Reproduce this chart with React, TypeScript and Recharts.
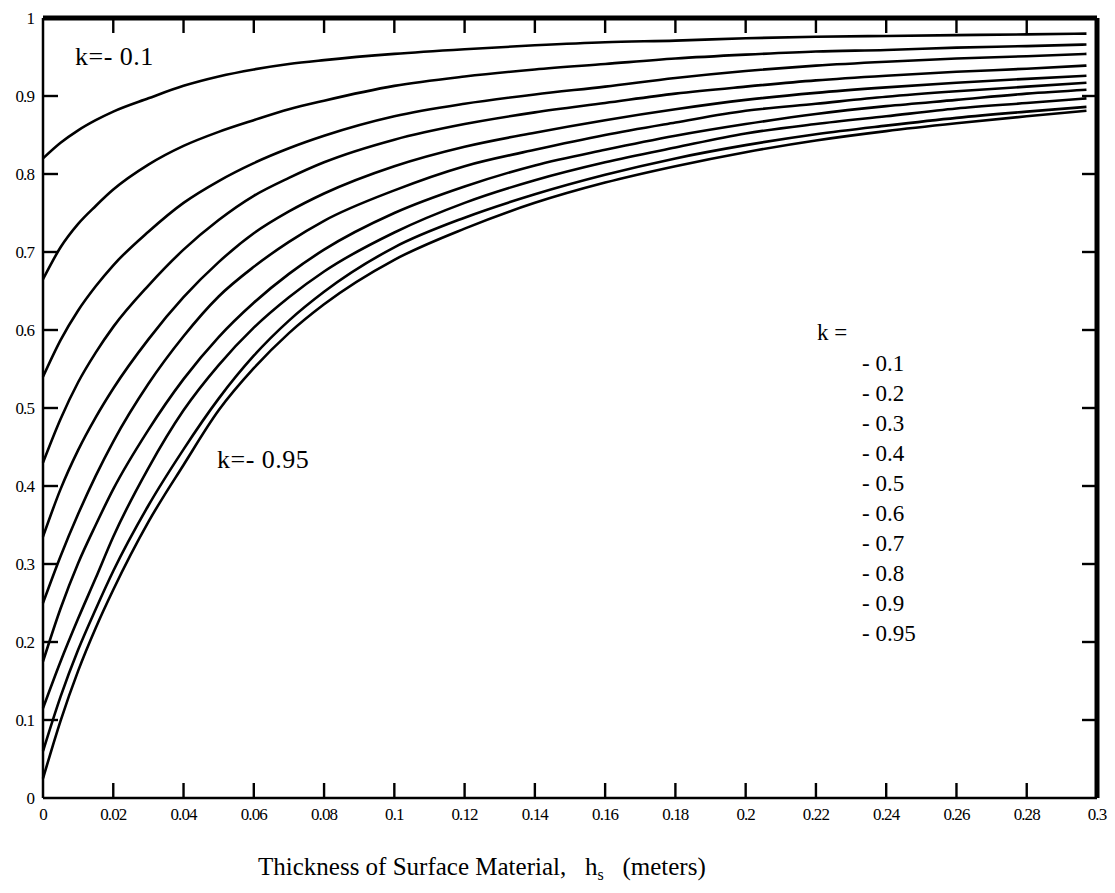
import React from "react";
import { LineChart, Line, XAxis, YAxis, ReferenceLine } from "recharts";

// thickness of surface material (m)
const xs = [0, 0.005, 0.01, 0.015, 0.02, 0.03, 0.04, 0.05, 0.06, 0.07, 0.08, 0.1, 0.12, 0.14, 0.16, 0.18, 0.2, 0.22, 0.24, 0.26, 0.28, 0.297];

// one curve per k
const k01 = [0.82, 0.84, 0.856, 0.869, 0.88, 0.897, 0.913, 0.925, 0.934, 0.941, 0.946, 0.954, 0.96, 0.965, 0.969, 0.971, 0.974, 0.976, 0.977, 0.978, 0.979, 0.98];
const k02 = [0.665, 0.706, 0.736, 0.759, 0.78, 0.812, 0.836, 0.854, 0.869, 0.883, 0.894, 0.913, 0.925, 0.934, 0.941, 0.948, 0.953, 0.957, 0.959, 0.962, 0.964, 0.966];
const k03 = [0.54, 0.587, 0.625, 0.656, 0.683, 0.726, 0.763, 0.791, 0.814, 0.833, 0.849, 0.874, 0.89, 0.902, 0.912, 0.923, 0.932, 0.939, 0.944, 0.948, 0.951, 0.954];
const k04 = [0.43, 0.486, 0.533, 0.571, 0.604, 0.657, 0.703, 0.741, 0.772, 0.795, 0.815, 0.844, 0.864, 0.879, 0.891, 0.903, 0.912, 0.92, 0.926, 0.931, 0.935, 0.939];
const k05 = [0.335, 0.396, 0.446, 0.488, 0.525, 0.588, 0.642, 0.687, 0.724, 0.752, 0.775, 0.81, 0.835, 0.853, 0.869, 0.883, 0.895, 0.904, 0.911, 0.917, 0.922, 0.926];
const k06 = [0.25, 0.31, 0.364, 0.413, 0.457, 0.531, 0.592, 0.643, 0.681, 0.713, 0.74, 0.779, 0.81, 0.831, 0.85, 0.866, 0.881, 0.89, 0.899, 0.906, 0.912, 0.917];
const k07 = [0.175, 0.243, 0.301, 0.35, 0.396, 0.472, 0.537, 0.591, 0.635, 0.672, 0.703, 0.75, 0.784, 0.811, 0.831, 0.849, 0.864, 0.877, 0.887, 0.895, 0.903, 0.908];
const k08 = [0.115, 0.175, 0.23, 0.282, 0.335, 0.423, 0.497, 0.555, 0.603, 0.642, 0.675, 0.725, 0.763, 0.792, 0.815, 0.834, 0.852, 0.864, 0.874, 0.884, 0.891, 0.897];
const k09 = [0.06, 0.13, 0.19, 0.242, 0.291, 0.375, 0.447, 0.512, 0.567, 0.612, 0.649, 0.706, 0.744, 0.774, 0.799, 0.82, 0.837, 0.851, 0.862, 0.872, 0.88, 0.886];
const k095 = [0.025, 0.099, 0.163, 0.218, 0.267, 0.354, 0.427, 0.497, 0.551, 0.596, 0.633, 0.69, 0.73, 0.763, 0.789, 0.81, 0.828, 0.843, 0.855, 0.865, 0.874, 0.881];

const seriesKeys = ["k01", "k02", "k03", "k04", "k05", "k06", "k07", "k08", "k09", "k095"];
const seriesValues = [k01, k02, k03, k04, k05, k06, k07, k08, k09, k095];

const xTicks = [0, 0.02, 0.04, 0.06, 0.08, 0.1, 0.12, 0.14, 0.16, 0.18, 0.2, 0.22, 0.24, 0.26, 0.28, 0.3];
const yTicks = [0, 0.1, 0.2, 0.3, 0.4, 0.5, 0.6, 0.7, 0.8, 0.9, 1];

const legendLabels = ["- 0.1", "- 0.2", "- 0.3", "- 0.4", "- 0.5", "- 0.6", "- 0.7", "- 0.8", "- 0.9", "- 0.95"];

const data = xs.map((x, i) => {
  const row: Record<string, number> = { x };
  seriesKeys.forEach((k, j) => {
    row[k] = seriesValues[j][i];
  });
  return row;
});

const W = 1115;
const H = 893;
const PLOT_TOP = 18;
const PLOT_RIGHT = 1097;

const serif = '"Liberation Serif", "Times New Roman", serif';
const TICK = 15;

const isInner = (v: number, max: number) => v > 0 && v < max;

// bottom tick: inward mark at bottom and at top edge, label below
const BottomTick = (props: any) => {
  const { x, y, payload } = props;
  const v = payload.value;
  const inner = isInner(v, 0.3);
  return (
    <g>
      <line
        x1={x}
        x2={x}
        y1={y}
        y2={y - TICK}
        stroke={inner ? "#000" : "none"}
        strokeWidth={2.4}
      />
      <line
        x1={x}
        x2={x}
        y1={PLOT_TOP}
        y2={PLOT_TOP + TICK}
        stroke={inner ? "#000" : "none"}
        strokeWidth={2.4}
      />
      <text x={x} y={y + 22} textAnchor="middle" fontFamily={serif} fontSize={17} letterSpacing={-0.9} fill="#000">
        {String(v)}
      </text>
    </g>
  );
};

// left tick: inward mark at left and right edge, label to the left
const LeftTick = (props: any) => {
  const { x, y, payload } = props;
  const v = payload.value;
  const inner = isInner(v, 1);
  return (
    <g>
      {inner ? <line x1={x} x2={x + TICK} y1={y} y2={y} stroke="#000" strokeWidth={2.4} /> : null}
      {inner ? <line x1={PLOT_RIGHT} x2={PLOT_RIGHT - TICK} y1={y} y2={y} stroke="#000" strokeWidth={2.4} /> : null}
      <text x={x - 9} y={y} dy="0.34em" textAnchor="end" fontFamily={serif} fontSize={17} letterSpacing={-0.9} fill="#000">
        {String(v)}
      </text>
    </g>
  );
};

const axisLine = { stroke: "#000", strokeWidth: 2.5 };

export default function App() {
  return (
    <div style={{ position: "absolute", left: 0, top: 0, width: W, height: H, background: "#fff" }}>
      <LineChart width={W} height={H} data={data} margin={{ top: 18, right: 18, bottom: 65, left: 0 }}>
        {/* frame: top and right edges (half of the stroke is clipped by the plot area) */}
        <ReferenceLine y={1} stroke="#000" strokeWidth={5} ifOverflow="visible" />
        <ReferenceLine x={0.3} stroke="#000" strokeWidth={5} ifOverflow="visible" />
        {seriesKeys.map((k) => (
          <Line
            key={k}
            dataKey={k}
            type="monotone"
            stroke="#000"
            strokeWidth={2.6}
            dot={false}
            activeDot={false}
            isAnimationActive={false}
          />
        ))}
        <XAxis
          dataKey="x"
          type="number"
          domain={[0, 0.3]}
          ticks={xTicks}
          interval={0}
          height={30}
          tickSize={0}
          tickMargin={0}
          tickLine={false}
          axisLine={axisLine}
          tick={<BottomTick />}
        />
        <YAxis
          type="number"
          domain={[0, 1]}
          ticks={yTicks}
          interval={0}
          width={43}
          tickSize={0}
          tickMargin={0}
          tickLine={false}
          axisLine={axisLine}
          tick={<LeftTick />}
        />
      </LineChart>

      <svg
        width={W}
        height={H}
        style={{ position: "absolute", left: 0, top: 0, pointerEvents: "none" }}
        fontFamily={serif}
      >
        <text x={75} y={65} fontSize={26} letterSpacing={0.5}>k=- 0.1</text>
        <text x={217} y={468} fontSize={26} letterSpacing={0.5}>k=- 0.95</text>
        <text x={817} y={340} fontSize={23} style={{ whiteSpace: "pre" }}>k =</text>
        {legendLabels.map((s, i) => (
          <text key={s} x={862} y={371 + i * 30} fontSize={23} style={{ whiteSpace: "pre" }}>
            {s}
          </text>
        ))}
        <text x={258} y={875} fontSize={25} style={{ whiteSpace: "pre" }}>
          Thickness of Surface Material,{"   "}h
          <tspan fontSize={16} dy={5}>s</tspan>
          <tspan dy={-5}>{"   "}(meters)</tspan>
        </text>
      </svg>
    </div>
  );
}
